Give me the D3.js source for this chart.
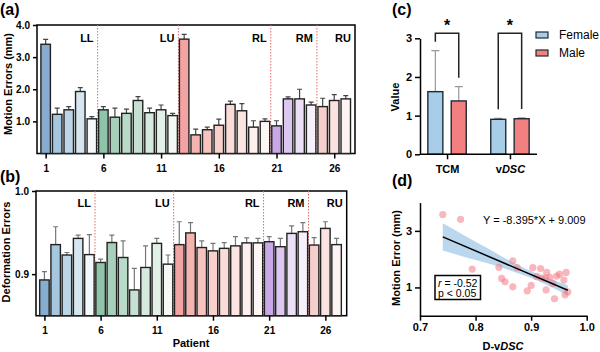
<!DOCTYPE html>
<html>
<head>
<meta charset="utf-8">
<script src="https://cdn.jsdelivr.net/npm/d3@7"></script>
<style>
  body { margin: 0; background: #fff; }
  svg { font-family: "Liberation Sans", Arial, sans-serif; }
</style>
</head>
<body>
<div id="chart"></div>
<script>
// ---- data ----
const patients = d3.range(1, 28);
const patientTicks = [1, 6, 11, 16, 21, 26];
const regions = ['LL', 'LU', 'RL', 'RM', 'RU'];
const regionEnds = [5, 12, 20, 24, 27];

const motionMean = [3.40, 1.22, 1.36, 1.93, 1.08, 1.36, 1.13, 1.25, 1.65, 1.27, 1.36, 1.18,
  3.56, 0.58, 0.74, 0.88, 1.53, 1.33, 0.82, 1.00, 0.86, 1.70, 1.70, 1.51, 1.46, 1.65, 1.70];
const motionErr = [3.55, 1.41, 1.46, 2.05, 1.15, 1.46, 1.41, 1.38, 1.77, 1.41, 1.51, 1.25,
  3.71, 0.76, 0.82, 1.07, 1.63, 1.55, 1.02, 1.08, 1.02, 1.76, 2.00, 1.60, 1.72, 1.83, 1.80];
const motionTicks = [1.0, 2.0, 3.0, 4.0];

const deformMean = [0.893, 0.9355, 0.923, 0.943, 0.9235, 0.914, 0.938, 0.920, 0.881, 0.908, 0.937, 0.912,
  0.9355, 0.9496, 0.932, 0.928, 0.931, 0.934, 0.9376, 0.9376, 0.939, 0.933, 0.949, 0.951, 0.935, 0.955, 0.9355];
const deformErr = [0.903, 0.957, 0.926, 0.947, 0.9475, 0.918, 0.947, 0.940, 0.907, 0.934, 0.943, 0.923,
  0.963, 0.962, 0.940, 0.937, 0.938, 0.945, 0.9436, 0.943, 0.945, 0.943, 0.958, 0.962, 0.944, 0.963, 0.943];
const deformTicks = [0.9, 1.0];

const barColors = [
  '#86add0', '#a5c6df', '#bcd6e8', '#d5e6f0', '#f4f8fb',
  '#8fc4a8', '#a6d0b9', '#b8dac7', '#c6e1d1', '#d6e9dd', '#e3f0e7', '#f3f8f4',
  '#f2a3a3', '#f4b4b0', '#f6c3bf', '#f8d0cc', '#f9dbd8', '#fbe5e3', '#fcefee', '#fdf6f5',
  '#c8a8e6', '#dcc7f0', '#ebe0f6', '#f5f0fa',
  '#f4cfcb', '#f9e2e0', '#fdf3f2'];

const sexGroups = ['TCM', 'vDSC'];
const sexes = ['Female', 'Male'];
const sexColors = ['#a8cde8', '#f28080'];
const femaleMean = [1.62, 0.905];
const femaleErr = [2.68, 0.93];
const maleMean = [1.38, 0.92];
const maleErr = [1.75, 0.94];
const valueTicks = [0, 1, 2, 3];

const dscX = [0.741, 0.773, 0.794, 0.842, 0.847, 0.853, 0.867, 0.867, 0.875, 0.893, 0.900, 0.903, 0.910,
  0.917, 0.919, 0.926, 0.928, 0.927, 0.934, 0.939, 0.942, 0.946, 0.951, 0.959, 0.963, 0.961, 0.966];
const errY = [3.58, 3.41, 1.65, 1.71, 1.32, 1.20, 1.94, 1.02, 1.70, 0.88, 1.07, 1.70, 1.39,
  1.67, 1.33, 1.32, 1.53, 0.91, 1.36, 1.14, 0.60, 1.40, 1.47, 1.26, 1.53, 0.74, 0.84];
const slope = -8.395;
const intercept = 9.009;
const bandX = [0.741, 0.78, 0.82, 0.86, 0.90, 0.93, 0.966];
const bandLo = [2.31, 2.08, 1.86, 1.62, 1.33, 1.07, 0.72];
const bandHi = [3.27, 2.84, 2.40, 1.96, 1.57, 1.33, 1.08];
const dscTicks = [0.7, 0.8, 0.9, 1.0];
const errTicks = [1, 3];

const W = 600, H = 352;
const svg = d3.select('#chart').append('svg').attr('width', W).attr('height', H);

function panelLabel(txt, x, y) {
  svg.append('text').attr('x', x).attr('y', y).attr('font-size', 16).attr('font-weight', 'bold').text(txt);
}

function yTitle(txt, x, y) {
  svg.append('text')
    .attr('transform', `translate(${x},${y}) rotate(-90)`)
    .attr('text-anchor', 'middle').attr('font-size', 11).attr('font-weight', 'bold').text(txt);
}

function styleAxis(g) {
  g.selectAll('.domain').attr('stroke', '#000').attr('stroke-width', 1.5);
  g.selectAll('.tick line').attr('stroke', '#000').attr('stroke-width', 1.5);
  g.selectAll('.tick text').attr('font-size', 10).attr('font-weight', 'bold')
    .attr('font-family', '"Liberation Sans", Arial, sans-serif').attr('fill', '#000');
}

function patientBars(opts) {
  const { x, y, mean, err, top, bottom, left, right, tickFmt, labelY, errColor } = opts;
  const g = svg.append('g');

  // frame
  g.append('rect').attr('x', left).attr('y', top).attr('width', right - left).attr('height', bottom - top)
    .attr('fill', 'none').attr('stroke', '#000').attr('stroke-width', 1.5);

  // region dividers + labels
  regionEnds.forEach((end, i) => {
    let xr = i < regionEnds.length - 1 ? x(end + 0.5) : right;
    if (i < regionEnds.length - 1) {
      g.append('line').attr('x1', xr).attr('x2', xr).attr('y1', top).attr('y2', bottom)
        .attr('stroke', '#e46a6a').attr('stroke-width', 1).attr('stroke-dasharray', '1.5,1.5');
    }
    g.append('text').attr('x', xr - 4).attr('y', labelY).attr('text-anchor', 'end')
      .attr('font-size', 11).attr('font-weight', 'bold').text(regions[i]);
  });

  const bw = 9.5;
  // error bars
  g.selectAll('.eb').data(patients).enter().append('path')
    .attr('d', (p) => {
      let cx = x(p), y0 = y(mean[p - 1]), y1 = y(err[p - 1]);
      return `M${cx},${y0}V${y1}M${cx - 2.5},${y1}H${cx + 2.5}`;
    })
    .attr('stroke', errColor).attr('stroke-width', 1.2).attr('fill', 'none');

  g.selectAll('.bar').data(patients).enter().append('rect')
    .attr('x', (p) => x(p) - bw / 2)
    .attr('y', (p) => y(mean[p - 1]))
    .attr('width', bw)
    .attr('height', (p) => bottom - y(mean[p - 1]))
    .attr('fill', (p) => barColors[p - 1])
    .attr('stroke', '#222').attr('stroke-width', 1.4);

  const ax = g.append('g').attr('transform', `translate(0,${bottom})`)
    .call(d3.axisBottom(x).tickValues(patientTicks).tickSize(5).tickSizeOuter(0));
  ax.select('.domain').remove();
  styleAxis(ax);
  ax.selectAll('.tick text').attr('dy', '1.05em');

  const ay = g.append('g').attr('transform', `translate(${left},0)`)
    .call(d3.axisLeft(y).tickValues(opts.ticks).tickFormat(tickFmt).tickSize(4).tickSizeOuter(0));
  ay.select('.domain').remove();
  styleAxis(ay);
}

// (a) motion errors
const xA = d3.scaleLinear().domain([0.25, 27.8]).range([37, 355]);
const yA = d3.scaleLinear().domain([0, 4]).range([153.5, 25]);
patientBars({ x: xA, y: yA, mean: motionMean, err: motionErr, top: 25, bottom: 153.5, left: 37, right: 355,
  ticks: motionTicks, tickFmt: d3.format('.1f'), labelY: 42, errColor: '#444' });
panelLabel('(a)', 0, 15);
yTitle('Motion Errors (mm)', 12, 84);

// (b) deformation errors
const xB = d3.scaleLinear().domain([0.25, 27.9]).range([36, 346.7]);
const yB = d3.scaleLinear().domain([0.85, 1.0]).range([315.7, 191]);
patientBars({ x: xB, y: yB, mean: deformMean, err: deformErr, top: 191, bottom: 315.7, left: 36, right: 346.7,
  ticks: deformTicks, tickFmt: d3.format('.1f'), labelY: 207, errColor: '#777' });
panelLabel('(b)', 0, 182);
yTitle('Deformation Errors', 10, 252);
svg.append('text').attr('x', 191).attr('y', 347).attr('text-anchor', 'middle')
  .attr('font-size', 11).attr('font-weight', 'bold').text('Patient');

// (c) sex comparison
const xC = d3.scalePoint().domain(sexGroups).range([420, 537]).padding(0.43);
const yC = d3.scaleLinear().domain([0, 3]).range([154.3, 38.3]);
const cw = 15, coff = 11.7;
const cData = sexGroups.flatMap((grp, i) => [
  { grp, s: 0, mean: femaleMean[i], err: femaleErr[i] },
  { grp, s: 1, mean: maleMean[i], err: maleErr[i] }]);
const cx = (d) => xC(d.grp) + (d.s === 0 ? -coff : coff);

svg.selectAll('.ceb').data(cData).enter().append('path')
  .attr('d', (d) => `M${cx(d)},${yC(d.mean)}V${yC(d.err)}M${cx(d) - 4},${yC(d.err)}H${cx(d) + 4}`)
  .attr('stroke', '#999').attr('stroke-width', 1.2).attr('fill', 'none');
svg.selectAll('.cbar').data(cData).enter().append('rect')
  .attr('x', (d) => cx(d) - cw / 2).attr('y', (d) => yC(d.mean))
  .attr('width', cw).attr('height', (d) => yC(0) - yC(d.mean))
  .attr('fill', (d) => sexColors[d.s]).attr('stroke', '#1f2a33').attr('stroke-width', 1.4);

// significance brackets
sexGroups.forEach((grp, i) => {
  let xl = xC(grp) - coff, xr = xC(grp) + coff, yt = 33.3;
  svg.append('path')
    .attr('d', `M${xl},${yC(femaleErr[i]) - 9}V${yt}H${xr}V${yC(maleErr[i]) - 9}`)
    .attr('fill', 'none').attr('stroke', '#222').attr('stroke-width', 1.5);
  svg.append('text').attr('x', xC(grp)).attr('y', 31).attr('text-anchor', 'middle')
    .attr('font-size', 16).attr('font-weight', 'bold').text('*');
});

const axC = svg.append('g').attr('transform', `translate(0,${yC(0)})`)
  .call(d3.axisBottom(xC).tickSize(5).tickSizeOuter(0));
axC.select('.domain').attr('d', `M420,0H537`);
styleAxis(axC);
axC.selectAll('.tick text').attr('font-size', 11).attr('dy', '1em');
axC.selectAll('.tick text').filter((d) => d === 'vDSC').text(null)
  .call((t) => {
    t.append('tspan').text('v');
    t.append('tspan').attr('font-style', 'italic').text('DSC');
  });
const ayC = svg.append('g').attr('transform', 'translate(420,0)')
  .call(d3.axisLeft(yC).tickValues(valueTicks).tickFormat(d3.format('d')).tickSize(5).tickSizeOuter(0));
styleAxis(ayC);
ayC.selectAll('.tick text').attr('font-size', 11);
panelLabel('(c)', 392, 15);
yTitle('Value', 399, 97);

// legend
sexes.forEach((s, i) => {
  let ly = 35 + i * 18;
  svg.append('rect').attr('x', 536).attr('y', ly - 3).attr('width', 12).attr('height', 6)
    .attr('fill', sexColors[i]).attr('stroke', '#1f2a33').attr('stroke-width', 1.2);
  svg.append('text').attr('x', 559).attr('y', ly + 4).attr('font-size', 12).text(s);
});

// (d) correlation
const xD = d3.scaleLinear().domain([0.7, 1.0]).range([420, 586.7]);
const yD = d3.scaleLinear().domain([0, 4]).range([315.7, 202.6]);

svg.append('path').datum(bandX)
  .attr('d', d3.area().curve(d3.curveMonotoneX)
    .x((v) => xD(v)).y0((v, i) => yD(bandLo[i])).y1((v, i) => yD(bandHi[i])))
  .attr('fill', '#b3d3ec').attr('opacity', 0.9);

svg.selectAll('.pt').data(dscX).enter().append('circle')
  .attr('cx', (v) => xD(v)).attr('cy', (v, i) => yD(errY[i])).attr('r', 3.6)
  .attr('fill', '#f27c86').attr('opacity', 0.55);

const lineEnds = [d3.min(dscX), d3.max(dscX)];
svg.append('line')
  .attr('x1', xD(lineEnds[0])).attr('y1', yD(slope * lineEnds[0] + intercept))
  .attr('x2', xD(lineEnds[1])).attr('y2', yD(slope * lineEnds[1] + intercept))
  .attr('stroke', '#000').attr('stroke-width', 1.5);

svg.append('text').attr('x', 483).attr('y', 224).attr('font-size', 11)
  .text('Y = -8.395*X + 9.009');

svg.append('rect').attr('x', 435).attr('y', 275.5).attr('width', 45.5).attr('height', 24)
  .attr('fill', '#fff').attr('stroke', '#000').attr('stroke-width', 1.5);
const rt = svg.append('text').attr('x', 438).attr('y', 286.5).attr('font-size', 10.5);
rt.append('tspan').attr('font-style', 'italic').text('r');
rt.append('tspan').text(' = -0.52');
svg.append('text').attr('x', 438).attr('y', 297).attr('font-size', 10.5).text('p < 0.05');

const axD = svg.append('g').attr('transform', `translate(0,315.7)`)
  .call(d3.axisBottom(xD).tickValues(dscTicks).tickFormat(d3.format('.1f')).tickSize(5).tickSizeOuter(0));
styleAxis(axD);
axD.selectAll('.tick text').attr('font-size', 11);
const ayD = svg.append('g').attr('transform', 'translate(420,0)')
  .call(d3.axisLeft(yD).tickValues(errTicks).tickFormat(d3.format('d')).tickSize(5).tickSizeOuter(0));
styleAxis(ayD);
ayD.selectAll('.tick text').attr('font-size', 11);
panelLabel('(d)', 392, 186);
yTitle('Motion Error (mm)', 400, 258);
const dt = svg.append('text').attr('x', 503).attr('y', 350).attr('text-anchor', 'middle')
  .attr('font-size', 11).attr('font-weight', 'bold');
dt.append('tspan').text('D-v');
dt.append('tspan').attr('font-style', 'italic').text('DSC');
</script>
</body>
</html>
